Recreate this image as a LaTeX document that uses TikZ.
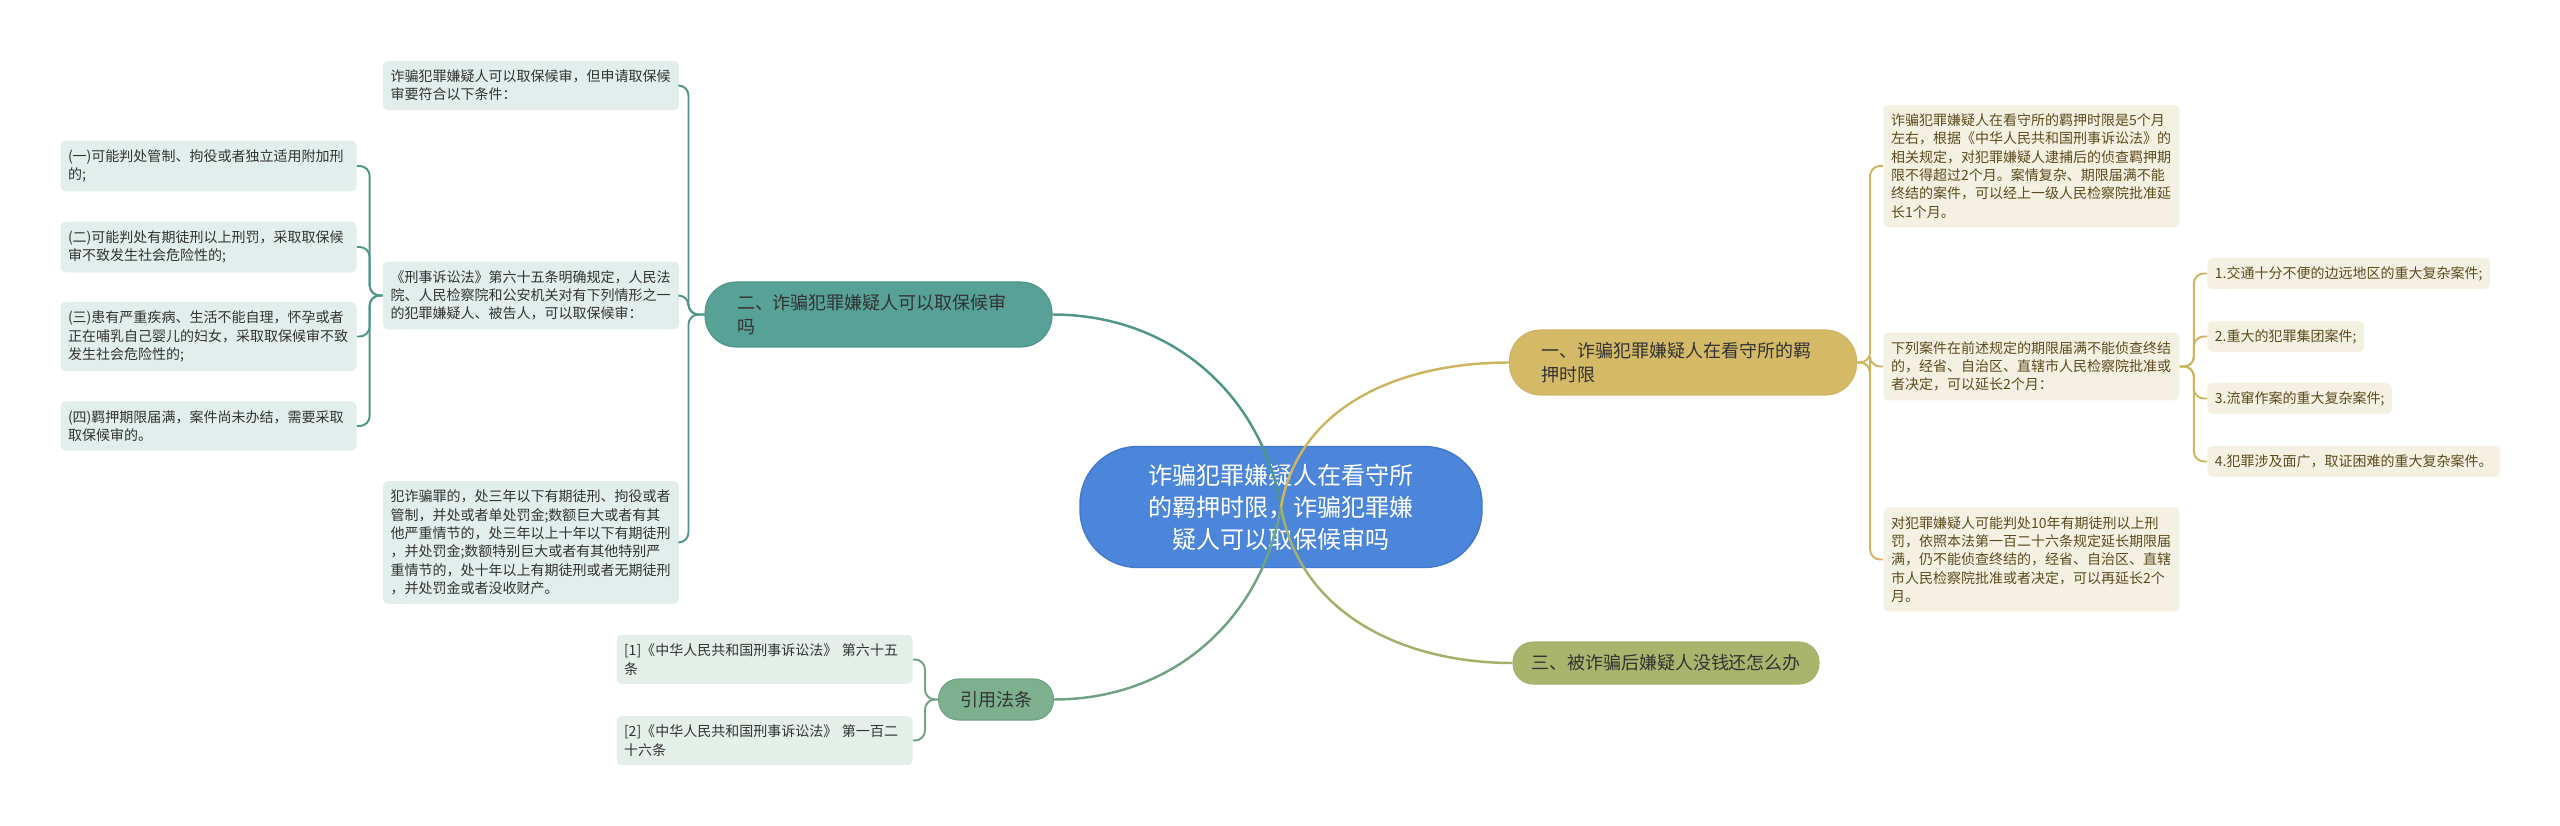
\documentclass[tikz,border=0pt]{standalone}
\usepackage{fontspec}
\setmainfont{Noto Sans CJK SC}

\begin{document}
\begin{tikzpicture}[
  hub/.style={fill=hubblue,draw=hubedge,line width=0.8pt,rounded corners=1.15cm,
    minimum width=8.04cm,minimum height=2.42cm,align=center,text=white,
    font=\fontsize{13.7}{18.2}\selectfont},
  topic/.style={rounded corners=0.62cm,minimum height=1.3cm,align=left,line width=0.6pt,
    text width=5.66cm,inner xsep=0.64cm,text=ink,font=\fontsize{10.24}{13.66}\selectfont},
  pill/.style={rounded corners=0.4cm,minimum height=0.84cm,inner xsep=0.36cm,line width=0.6pt,
    text=ink,font=\fontsize{10.24}{13.66}\selectfont},
  leaf/.style={rounded corners=0.1cm,align=left,text width=5.62cm,inner xsep=0.15cm,
    inner ysep=0.18cm,font=\fontsize{7.97}{10.4}\selectfont},
  caseitem/.style={rounded corners=0.1cm,minimum height=0.62cm,inner xsep=0.15cm,
    anchor=west,fill=cgoldl,text=cgoldt,font=\fontsize{7.97}{10.4}\selectfont},
  trunk/.style={line width=1.4pt},
  twig/.style={line width=1.1pt,rounded corners=0.2cm}]
\definecolor{hubblue}{HTML}{4C86DA}\definecolor{hubedge}{HTML}{4479CC}
\definecolor{cteal}{HTML}{57A196}\definecolor{ctealline}{HTML}{4F968A}\definecolor{cteall}{HTML}{E1EEEC}
\definecolor{cgold}{HTML}{D4BA67}\definecolor{cgoldline}{HTML}{CFB562}\definecolor{cgoldl}{HTML}{F5F1E2}
\definecolor{cgoldt}{HTML}{5C4B1C}
\definecolor{colive}{HTML}{A9B46C}\definecolor{coliveline}{HTML}{A5B069}
\definecolor{cgreen}{HTML}{7DB08F}\definecolor{cgreenline}{HTML}{6FA382}\definecolor{cgreenl}{HTML}{E3EFE8}
\definecolor{ink}{HTML}{333333}
\useasboundingbox (0,0) rectangle (51.2,-16.52);

% --- centre ---
\node[hub] (hub) at (25.62,-10.14) {诈骗犯罪嫌疑人在看守所\\的羁押时限，诈骗犯罪嫌\\疑人可以取保候审吗};

% --- main topics ---
\node[topic,fill=cteal,draw=ctealline] (bail) at (17.57,-6.29) {二、诈骗犯罪嫌疑人可以取保候审\\吗};
\node[topic,fill=cgold,draw=cgoldline] (term) at (33.66,-7.25) {一、诈骗犯罪嫌疑人在看守所的羁\\押时限};
\node[pill,fill=colive,draw=coliveline] (money) at (33.32,-13.26) {三、被诈骗后嫌疑人没钱还怎么办};
\node[pill,fill=cgreen,draw=cgreenline,inner xsep=0.43cm,minimum height=0.82cm] (law) at (19.92,-13.99) {引用法条};

% --- bail branch (left) ---
\node[leaf,fill=cteall,text=ink] (b1) at (10.62,-1.71) {诈骗犯罪嫌疑人可以取保候审，但申请取保候\\审要符合以下条件：};
\node[leaf,fill=cteall,text=ink] (b2) at (10.62,-5.91) {《刑事诉讼法》第六十五条明确规定，人民法\\院、人民检察院和公安机关对有下列情形之一\\的犯罪嫌疑人、被告人，可以取保候审：};
\node[leaf,fill=cteall,text=ink] (b3) at (10.62,-10.85) {犯诈骗罪的，处三年以下有期徒刑、拘役或者\\管制，并处或者单处罚金;数额巨大或者有其\\他严重情节的，处三年以上十年以下有期徒刑\\，并处罚金;数额特别巨大或者有其他特别严\\重情节的，处十年以上有期徒刑或者无期徒刑\\，并处罚金或者没收财产。};
\node[leaf,fill=cteall,text=ink] (a1) at (4.17,-3.32) {(一)可能判处管制、拘役或者独立适用附加刑\\的;};
\node[leaf,fill=cteall,text=ink] (a2) at (4.17,-4.94) {(二)可能判处有期徒刑以上刑罚，采取取保候\\审不致发生社会危险性的;};
\node[leaf,fill=cteall,text=ink] (a3) at (4.17,-6.73) {(三)患有严重疾病、生活不能自理，怀孕或者\\正在哺乳自己婴儿的妇女，采取取保候审不致\\发生社会危险性的;};
\node[leaf,fill=cteall,text=ink] (a4) at (4.17,-8.52) {(四)羁押期限届满，案件尚未办结，需要采取\\取保候审的。};

% --- term branch (right) ---
\node[leaf,fill=cgoldl,text=cgoldt] (c1) at (40.63,-3.32) {诈骗犯罪嫌疑人在看守所的羁押时限是5个月\\左右，根据《中华人民共和国刑事诉讼法》的\\相关规定，对犯罪嫌疑人逮捕后的侦查羁押期\\限不得超过2个月。案情复杂、期限届满不能\\终结的案件，可以经上一级人民检察院批准延\\长1个月。};
\node[leaf,fill=cgoldl,text=cgoldt] (c2) at (40.63,-7.33) {下列案件在前述规定的期限届满不能侦查终结\\的，经省、自治区、直辖市人民检察院批准或\\者决定，可以延长2个月：};
\node[leaf,fill=cgoldl,text=cgoldt] (c3) at (40.63,-11.19) {对犯罪嫌疑人可能判处10年有期徒刑以上刑\\罚，依照本法第一百二十六条规定延长期限届\\满，仍不能侦查终结的，经省、自治区、直辖\\市人民检察院批准或者决定，可以再延长2个\\月。};
\node[caseitem] (d1) at (44.14,-5.47) {1.交通十分不便的边远地区的重大复杂案件;};
\node[caseitem] (d2) at (44.14,-6.73) {2.重大的犯罪集团案件;};
\node[caseitem] (d3) at (44.14,-7.97) {3.流窜作案的重大复杂案件;};
\node[caseitem] (d4) at (44.14,-9.23) {4.犯罪涉及面广，取证困难的重大复杂案件。};

% --- cited articles ---
\node[leaf,fill=cgreenl,text=ink] (r1) at (15.29,-13.19) {[1]《中华人民共和国刑事诉讼法》 第六十五\\条};
\node[leaf,fill=cgreenl,text=ink] (r2) at (15.29,-14.81) {[2]《中华人民共和国刑事诉讼法》 第一百二\\十六条};

% --- twigs ---
\foreach \c in {b1,b2,b3}{\draw[twig,ctealline] (bail.west) -- ++(-0.32,0) |- (\c.east);}
\foreach \c in {a1,a2,a3,a4}{\draw[twig,ctealline] (b2.west) -- ++(-0.26,0) |- (\c.east);}
\foreach \c in {c1,c2,c3}{\draw[twig,cgoldline] (term.east) -- ++(0.26,0) |- (\c.west);}
\foreach \c in {d1,d2,d3,d4}{\draw[twig,cgoldline] (c2.east) -- ++(0.28,0) |- (\c.west);}
\foreach \c in {r1,r2}{\draw[twig,cgreenline] (law.west) -- ++(-0.26,0) |- (\c.east);}

% --- main curves (over the centre, as in the map) ---
\draw[trunk,ctealline] (bail.east) to[out=0,in=100] (hub.center);
\draw[trunk,cgoldline] (term.west) to[out=180,in=80] (hub.center);
\draw[trunk,cgreenline] (law.east) to[out=0,in=-100] (hub.center);
\draw[trunk,coliveline] (money.west) to[out=180,in=-80] (hub.center);
\end{tikzpicture}
\end{document}
